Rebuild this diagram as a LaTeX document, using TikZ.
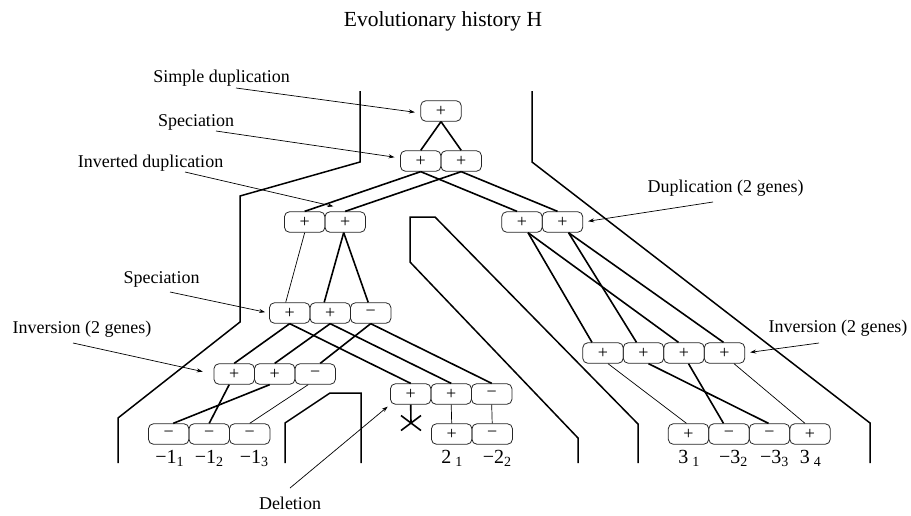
\documentclass[tikz,border=0pt]{standalone}
\usepackage{fontspec}
\setmainfont{Liberation Serif}
\usetikzlibrary{calc,arrows.meta}

\tikzset{
  gene/.style={draw=black!85, line width=0.8pt, rounded corners=5pt,
    minimum width=40.5pt, minimum height=20.5pt, inner sep=0pt,
    font=\fontsize{18}{18}\selectfont},
  species/.style={line width=1.5pt, line join=miter},
  heavy/.style={line width=1.6pt},
  light/.style={line width=0.7pt},
  note/.style={line width=0.7pt, -{Stealth[length=6pt,width=4pt]}},
  lbl/.style={font=\fontsize{18}{18}\selectfont, anchor=base, inner sep=0pt},
  leaf/.style={font=\fontsize{20}{20}\selectfont, anchor=base, inner sep=0pt},
}

\begin{document}
\begin{tikzpicture}[x=1pt,y=-1pt]
\useasboundingbox (0,0) rectangle (911,515);

% title
\node[font=\fontsize{21.5}{21.5}\selectfont, anchor=base] (title) at (443,26) {Evolutionary history H};

% species tree outline
\draw[species] (360,91) -- (360,162) -- (240,196) -- (240,322) -- (118,418) -- (118,463);
\draw[species] (285,463) -- (285,423) -- (330,393) -- (361,393) -- (361,463);
\draw[species] (578,463) -- (578,438) -- (410,262) -- (410,217) -- (435,217) -- (638,424) -- (638,463);
\draw[species] (532,91) -- (532,162) -- (870,423) -- (870,463);

% gene boxes
\node[gene] (root) at (441,111) {+};
\node[gene] (s1) at (420.7,161) {+};
\node[gene] (s2) at (461.2,161) {+};
\node[gene] (i1) at (304.7,222) {+};
\node[gene] (i2) at (345.2,222) {+};
\node[gene] (d1) at (522,222) {+};
\node[gene] (d2) at (562.5,222) {+};
\node[gene] (p1) at (289.7,313) {+};
\node[gene] (p2) at (330.2,313) {+};
\node[gene] (p3) at (370.7,313) {−};
\node[gene] (q1) at (234.2,374) {+};
\node[gene] (q2) at (274.7,374) {+};
\node[gene] (q3) at (315.2,374) {−};
\node[gene] (x1) at (410.7,394) {+};
\node[gene] (x2) at (451.2,394) {+};
\node[gene] (x3) at (491.7,394) {−};
\node[gene] (m1) at (168.7,434) {−};
\node[gene] (m2) at (209.2,434) {−};
\node[gene] (m3) at (249.7,434) {−};
\node[gene] (b1) at (451.7,434) {+};
\node[gene] (b2) at (492.2,434) {−};
\node[gene] (r1) at (603,353) {+};
\node[gene] (r2) at (643.5,353) {+};
\node[gene] (r3) at (684,353) {+};
\node[gene] (r4) at (724.5,353) {+};
\node[gene] (t1) at (688.5,434) {+};
\node[gene] (t2) at (729,434) {−};
\node[gene] (t3) at (769.5,434) {−};
\node[gene] (t4) at (810,434) {+};

% gene tree edges
\draw[heavy] (root.south) -- (s1.north);
\draw[heavy] (root.south) -- (s2.north);
\draw[heavy] (s1.south) -- (i1.north);
\draw[heavy] (s1.south) -- ($(d1.north)+(-5,0)$);
\draw[heavy] (s2.south) -- (i2.north);
\draw[heavy] (s2.south) -- ($(d2.north)+(-5,0)$);
\draw[light] (i1.south) -- ($(p1.north)+(-4,0)$);
\draw[heavy] ($(i2.south)+(-1.5,0)$) -- ($(p2.north)+(-6,0)$);
\draw[heavy] ($(i2.south)+(-1.5,0)$) -- ($(p3.north)+(-2.5,0)$);
\draw[heavy] (p1.south) -- (q1.north);
\draw[heavy] (p1.south) -- (x1.north);
\draw[heavy] (p2.south) -- (q2.north);
\draw[heavy] (p2.south) -- (x2.north);
\draw[heavy] (p3.south) -- ($(q3.north)+(5,0)$);
\draw[heavy] (p3.south) -- (x3.north);
\draw[heavy] ($(q1.south)+(-5,0)$) -- (m2.north);
\draw[heavy] ($(q2.south)+(-5,0)$) -- ($(m1.north)+(4.5,0)$);
\draw[light] ($(q3.south)+(-7,0)$) -- (m3.north);
\draw[light] (x2.south) -- (b1.north);
\draw[light] (x3.south) -- (b2.north);
\draw[heavy] ($(d1.south)+(6,0)$) -- ($(r1.north)+(-11,0)$);
\draw[heavy] ($(d1.south)+(6,0)$) -- ($(r3.north)+(-5.5,0)$);
\draw[heavy] ($(d2.south)+(6,0)$) -- ($(r2.north)+(-7,0)$);
\draw[heavy] ($(d2.south)+(6,0)$) -- ($(r4.north)+(-1,0)$);
\draw[light] ($(r1.south)+(5,0)$) -- ($(t1.north)+(-2,0)$);
\draw[heavy] ($(r2.south)+(5,0)$) -- ($(t3.north)+(-1,0)$);
\draw[heavy] ($(r3.south)+(4.5,0)$) -- ($(t2.north)+(-5.5,0)$);
\draw[light] ($(r4.south)+(9.5,0)$) -- ($(t4.north)+(-5,0)$);

% lost gene
\coordinate (xc) at (411,423);
\draw[heavy] (x1.south) -- (xc);
\draw[heavy] ($(xc)+(-10,-7.5)$) -- ($(xc)+(10,7.5)$);
\draw[heavy] ($(xc)+(10,-7.5)$) -- ($(xc)+(-10,7.5)$);

% leaf names
\node[leaf] (lm1) at ($(m1.south)+(1,19)$) {−1\textsubscript{1}};
\node[leaf] (lm2) at ($(m2.south)+(0,19)$) {−1\textsubscript{2}};
\node[leaf] (lm3) at ($(m3.south)+(4.5,19)$) {−1\textsubscript{3}};
\node[leaf] (lb1) at ($(b1.south)+(0.5,19)$) {2\hspace{4pt}\textsubscript{1}};
\node[leaf] (lb2) at ($(b2.south)+(5,19)$) {−2\textsubscript{2}};
\node[leaf] (lt1) at ($(t1.south)+(0.5,19)$) {3\hspace{4pt}\textsubscript{1}};
\node[leaf] (lt2) at ($(t2.south)+(4.5,19)$) {−3\textsubscript{2}};
\node[leaf] (lt3) at ($(t3.south)+(5,19)$) {−3\textsubscript{3}};
\node[leaf] (lt4) at ($(t4.south)+(0.5,19)$) {3\hspace{4pt}\textsubscript{4}};

% event labels
\node[lbl] (lsd) at (221.5,82) {Simple duplication};
\node[lbl] (lsp1) at (196,126) {Speciation};
\node[lbl] (lid) at (150.5,167) {Inverted duplication};
\node[lbl] (ldup) at (725.5,192.7) {Duplication (2 genes)};
\node[lbl] (lsp2) at (161.5,283.3) {Speciation};
\node[lbl] (linv1) at (82,333.3) {Inversion (2 genes)};
\node[lbl] (ldel) at (290,509.3) {Deletion};
\node[lbl] (linv2) at (838,332.7) {Inversion (2 genes)};

% pointers from labels to events
\coordinate (a1) at (236,88);
\coordinate (a2) at (216,131);
\coordinate (a3) at (185,172);
\coordinate (a4) at (713,202);
\coordinate (a5) at (170,292);
\coordinate (a6) at (73,343);
\coordinate (a7) at (290,488);
\coordinate (a8) at (819,343);
\draw[note, shorten >=5.5pt] (a1) -- ($(root.west)+(0,2)$);
\draw[note, shorten >=5.5pt] (a2) -- ($(s1.west)+(0,-3)$);
\draw[note] (a3) -- ($(i1.north east)+(8,-5)$);
\draw[note, shorten >=5pt] (a4) -- (d2.east);
\draw[note, shorten >=4pt] (a5) -- (p1.west);
\draw[note, shorten >=11pt] (a6) -- (q1.west);
\draw[note, shorten >=3pt] (a7) -- (x1.south west);
\draw[note, shorten >=5pt] (a8) -- (r4.east);
\end{tikzpicture}
\end{document}
